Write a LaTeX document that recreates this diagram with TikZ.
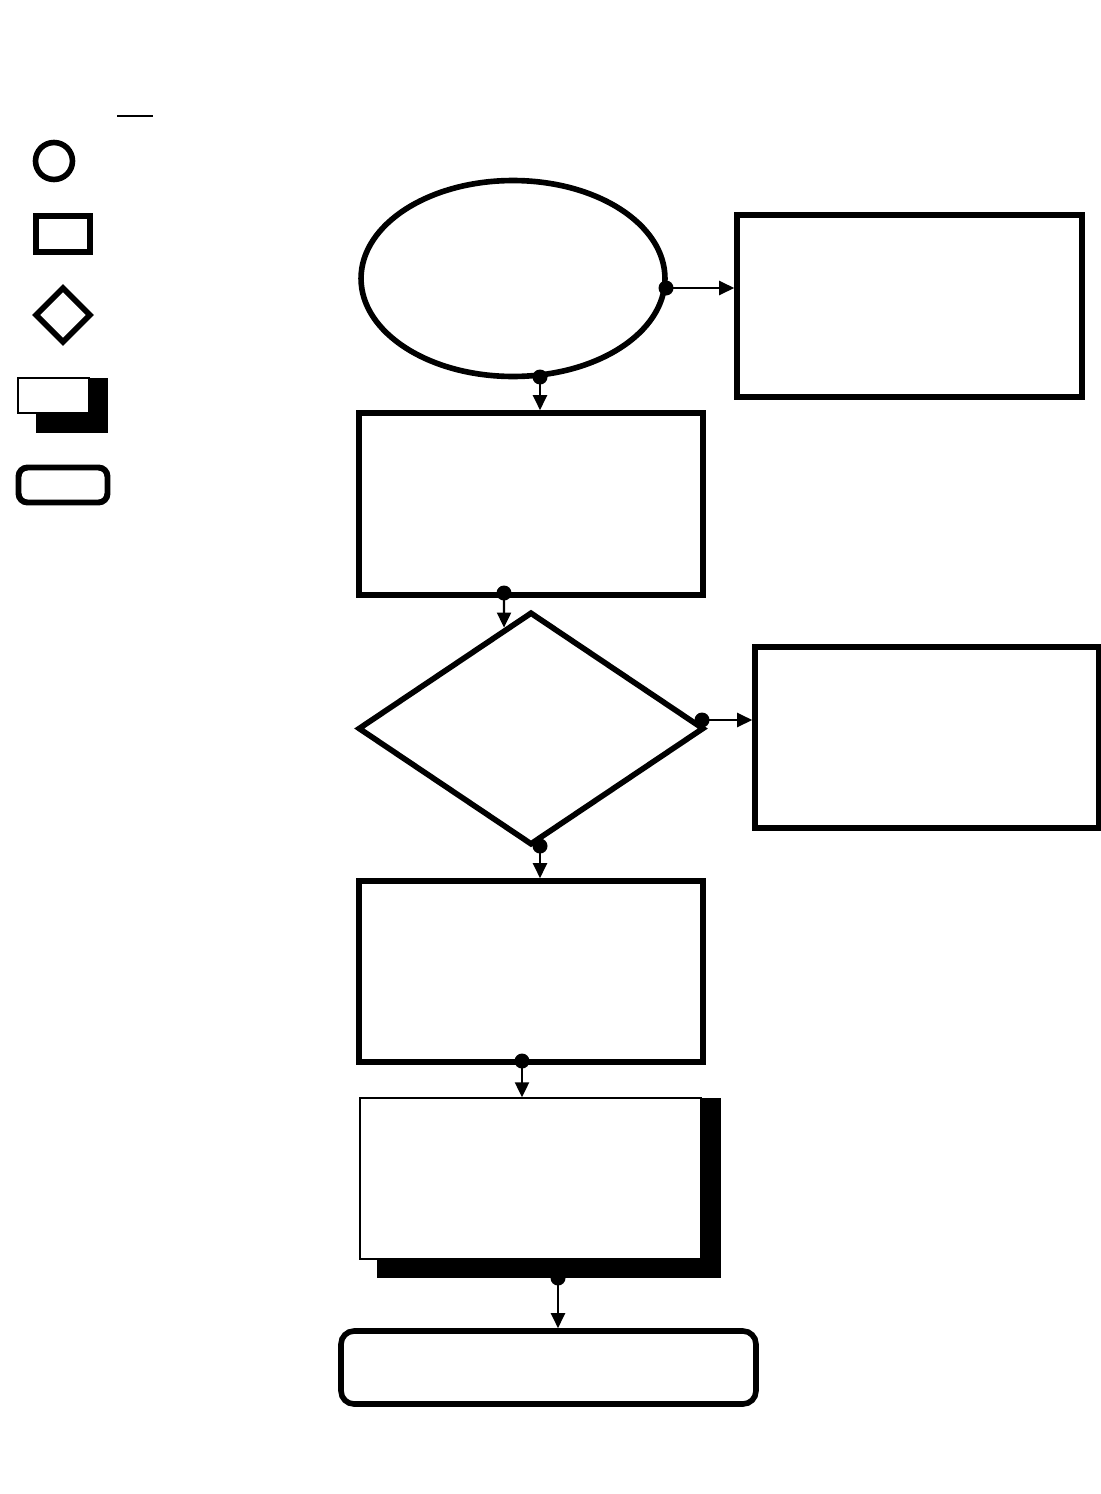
\documentclass[tikz,border=0pt]{standalone}
\usetikzlibrary{shapes.geometric,arrows.meta}
\begin{document}
\begin{tikzpicture}[x=0.02cm, y=-0.02cm,
    every node/.style={draw, line width=3.2pt, inner sep=0pt, fill=white},
    proc/.style={rectangle, minimum width=6.88cm, minimum height=3.64cm},
    term/.style={ellipse, minimum width=6.08cm, minimum height=3.92cm},
    dec/.style={diamond, minimum width=6.92cm, minimum height=4.66cm},
    io/.style={rectangle, line width=0.8pt, minimum width=6.82cm, minimum height=3.22cm},
    shade/.style={rectangle, fill=black, line width=0pt},
    endbox/.style={rectangle, rounded corners=0.26cm, minimum width=8.3cm, minimum height=1.46cm},
    flow/.style={line width=1.2pt, -{Triangle[width=0.28cm,length=0.3cm]}},
    dot/.style={circle, fill=black, draw=none, minimum size=0.3cm}]
    \useasboundingbox (0,0) rectangle (1101,1494);
    % Legend
    \coordinate (u1) at (117,116);
    \coordinate (u2) at (153,116);
    \draw[line width=1pt] (u1) -- (u2);
    \node[circle, line width=3.2pt, minimum size=0.74cm] (lcirc) at (54,161) {};
    \node[rectangle, line width=3.2pt, minimum width=1.08cm, minimum height=0.72cm] (lrect) at (63,234) {};
    \node[diamond, line width=3.2pt, minimum width=1.12cm, minimum height=1.12cm] (ldia) at (63,315) {};
    \node[shade, minimum width=1.44cm, minimum height=1.08cm] (lshade) at (72,405) {};
    \node[rectangle, line width=0.8pt, minimum width=1.42cm, minimum height=0.7cm] (lio) at (53.5,395.5) {};
    \node[rectangle, line width=3.4pt, rounded corners=0.18cm, minimum width=1.78cm, minimum height=0.7cm] (lend) at (63,485) {};
    % Main chart
    \node[term] (start) at (513,278.5) {};
    \node[proc, minimum width=6.9cm] (boxA) at (909.5,306) {};
    \node[proc] (boxB) at (531,504) {};
    \node[dec] (check) at (531,728.5) {};
    \node[proc, minimum height=3.62cm] (boxC) at (927,737.5) {};
    \node[proc, minimum height=3.62cm] (boxD) at (531,971.5) {};
    \node[shade, minimum width=6.88cm, minimum height=3.6cm] (outshade) at (549,1188) {};
    \node[io] (out) at (530.5,1178.5) {};
    \node[endbox] (stop) at (548.5,1367.5) {};
    % Connector dots
    \node[dot] (p1) at (666,288) {};
    \node[dot] (p2) at (540,377) {};
    \node[dot] (p3) at (504,593) {};
    \node[dot] (p4) at (702,720) {};
    \node[dot] (p5) at (540,846) {};
    \node[dot] (p6) at (522,1061) {};
    \node[dot] (p7) at (558,1278) {};
    \coordinate (p3low) at (504,700);
    % Flow
    \draw[flow] (p1.center) -- (p1 -| boxA.west);
    \draw[flow] (p2.center) -- (p2 |- boxB.north);
    \draw[flow] (p3.center) -- (intersection of p3--p3low and check.north--check.west);
    \draw[flow] (p4.center) -- (p4 -| boxC.west);
    \draw[flow] (p5.center) -- (p5 |- boxD.north);
    \draw[flow] (p6.center) -- (p6 |- out.north);
    \draw[flow] (p7.center) -- (p7 |- stop.north);
\end{tikzpicture}
\end{document}
